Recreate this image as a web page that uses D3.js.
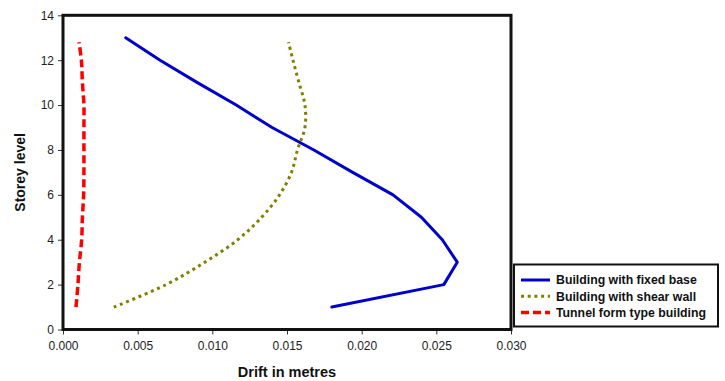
<!DOCTYPE html>
<html>
<head>
<meta charset="utf-8">
<script src="https://cdn.jsdelivr.net/npm/d3@7"></script>
<style>
  html, body { margin: 0; padding: 0; background: #fff; }
  svg { display: block; font-family: "Liberation Sans", Arial, sans-serif; }
</style>
</head>
<body>
<svg id="chart" width="725" height="381"></svg>
<script>
// Storey drift profiles (drift in metres at each storey level)
const fixedBaseStorey = [1, 2, 3, 4, 5, 6, 7, 8, 9, 10, 11, 12, 13];
const fixedBaseDrift  = [0.0180, 0.0255, 0.0264, 0.0254, 0.0240, 0.0221, 0.0194, 0.0168, 0.0140, 0.0116, 0.0090, 0.0065, 0.0042];

const shearWallStorey = [1, 2, 3, 4, 5, 6, 7, 8, 9, 10, 11, 12, 12.8];
const shearWallDrift  = [0.0034, 0.0069, 0.0095, 0.0117, 0.0133, 0.0145, 0.0153, 0.0157, 0.0162, 0.0162, 0.0158, 0.0154, 0.0151];

const tunnelStorey = [1, 2, 3, 4, 5, 6, 7, 8, 9, 10, 11, 12, 12.8];
const tunnelDrift  = [0.00087, 0.0010, 0.0011, 0.00125, 0.0013, 0.00138, 0.0014, 0.0014, 0.0014, 0.0014, 0.0013, 0.00123, 0.00107];

const seriesNames = ["Building with fixed base", "Building with shear wall", "Tunnel form type building"];
const xTicks = [0, 0.005, 0.010, 0.015, 0.020, 0.025, 0.030];
const yTicks = [0, 2, 4, 6, 8, 10, 12, 14];

const series = [
  { name: seriesNames[0], xs: fixedBaseDrift, ys: fixedBaseStorey, color: "#0000cc", width: 3, dash: null, curve: d3.curveLinear },
  { name: seriesNames[1], xs: shearWallDrift, ys: shearWallStorey, color: "#808000", width: 3, dash: "3,3.7", curve: d3.curveCatmullRom },
  { name: seriesNames[2], xs: tunnelDrift, ys: tunnelStorey, color: "#ff0000", width: 3.5, dash: "8,4", curve: d3.curveCatmullRom }
];

const svg = d3.select("#chart");
const plot = { left: 63, right: 511, top: 15.3, bottom: 329.5 };

const x = d3.scaleLinear().domain([0, 0.030]).range([plot.left, plot.right]);
const y = d3.scaleLinear().domain([0, 14]).range([plot.bottom, plot.top]);

svg.append("rect").attr("width", 725).attr("height", 381).attr("fill", "#fff");

// Axes with outward tick marks
const xAxis = d3.axisBottom(x).tickValues(xTicks).tickFormat(d3.format(".3f")).tickSize(5).tickPadding(7);
const yAxis = d3.axisLeft(y).tickValues(yTicks).tickFormat(d3.format("d")).tickSize(5).tickPadding(4);

const gx = svg.append("g").attr("transform", `translate(0,${plot.bottom})`).call(xAxis);
const gy = svg.append("g").attr("transform", `translate(${plot.left},0)`).call(yAxis);
[gx, gy].forEach(g => {
  g.select(".domain").remove();
  g.selectAll(".tick line").attr("stroke", "#333").attr("stroke-width", 1);
  g.selectAll(".tick text").attr("fill", "#222").style("font-size", "12px")
    .style("font-family", "'Liberation Sans', Arial, sans-serif");
});

// Series lines
series.forEach(s => {
  const pts = s.xs.map((v, i) => [v, s.ys[i]]);
  const line = d3.line().x(d => x(d[0])).y(d => y(d[1])).curve(s.curve);
  svg.append("path")
    .attr("d", line(pts))
    .attr("fill", "none")
    .attr("stroke", s.color)
    .attr("stroke-width", s.width)
    .attr("stroke-dasharray", s.dash)
    .attr("stroke-linejoin", "round")
    .attr("stroke-linecap", s.dash ? "butt" : "round");
});

// Plot frame
svg.append("rect")
  .attr("x", plot.left).attr("y", plot.top)
  .attr("width", plot.right - plot.left).attr("height", plot.bottom - plot.top)
  .attr("fill", "none").attr("stroke", "#111").attr("stroke-width", 3);

// Axis titles
svg.append("text")
  .attr("x", (plot.left + plot.right) / 2).attr("y", 377)
  .attr("text-anchor", "middle")
  .style("font-size", "14.5px").style("font-weight", "bold").attr("fill", "#111")
  .text("Drift in metres");

svg.append("text")
  .attr("transform", `translate(25,${(plot.top + plot.bottom) / 2}) rotate(-90)`)
  .attr("text-anchor", "middle")
  .style("font-size", "14px").style("font-weight", "bold").attr("fill", "#111")
  .text("Storey level");

// Legend
const lg = svg.append("g");
lg.append("rect")
  .attr("x", 514).attr("y", 264.5).attr("width", 204).attr("height", 62)
  .attr("fill", "#fff").attr("stroke", "#111").attr("stroke-width", 2);

series.forEach((s, i) => {
  const cy = 280 + i * 16.3;
  lg.append("line")
    .attr("x1", 521).attr("x2", 550).attr("y1", cy).attr("y2", cy)
    .attr("stroke", s.color).attr("stroke-width", s.width)
    .attr("stroke-dasharray", s.dash);
  lg.append("text")
    .attr("x", 556).attr("y", cy).attr("dy", "0.35em")
    .style("font-size", "12.3px").style("font-weight", "bold").attr("fill", "#111")
    .text(s.name);
});
</script>
</body>
</html>
